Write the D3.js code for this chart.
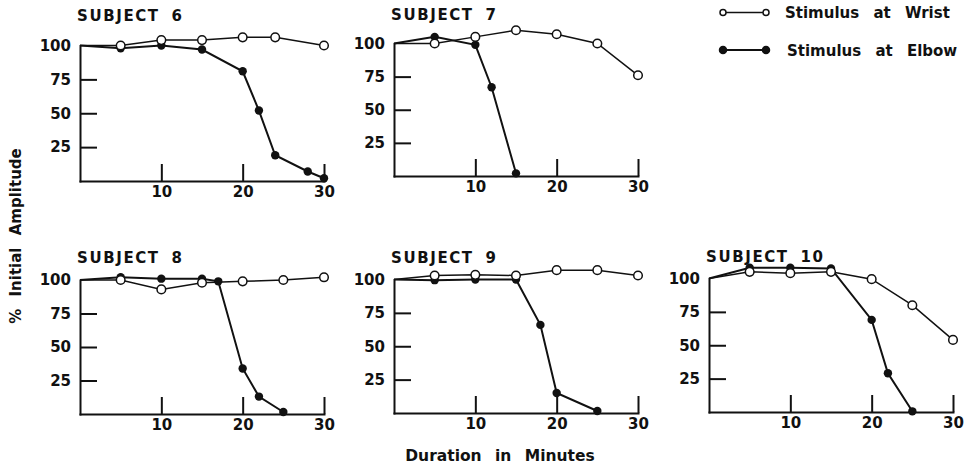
<!DOCTYPE html>
<html>
<head>
<meta charset="utf-8">
<script src="https://cdn.jsdelivr.net/npm/d3@7/dist/d3.min.js"></script>
<style>
  body { margin: 0; background: #fff; }
  svg { display: block; font-family: "DejaVu Sans", sans-serif; font-weight: bold; }
  .axis path, .axis line { stroke: #111; stroke-width: 2; }
  .axis text { font-size: 15px; fill: #111; font-family: "DejaVu Sans", sans-serif; font-weight: bold; }
</style>
</head>
<body>
<svg id="chart"></svg>
<script>
  // Values: [minutes, % of initial amplitude]
  const subjects = ["SUBJECT 6", "SUBJECT 7", "SUBJECT 8", "SUBJECT 9", "SUBJECT 10"];

  const wrist6 = [[0, 100], [5, 100], [10, 104], [15, 104], [20, 106], [24, 106], [30, 100]];
  const elbow6 = [[0, 100], [5, 98], [10, 100], [15, 97], [20, 81], [22, 52], [24, 19], [28, 7], [30, 2]];

  const wrist7 = [[0, 100], [5, 100], [10, 105], [15, 110], [20, 107], [25, 100], [30, 76]];
  const elbow7 = [[0, 100], [5, 105], [10, 99], [12, 67], [15, 2]];

  const wrist8 = [[0, 100], [5, 100], [10, 93], [15, 98], [20, 99], [25, 100], [30, 102]];
  const elbow8 = [[0, 100], [5, 102], [10, 101], [15, 101], [17, 99], [20, 34], [22, 13], [25, 1.5]];

  const wrist9 = [[0, 100], [5, 103], [10, 103.5], [15, 103], [20, 107], [25, 107], [30, 103]];
  const elbow9 = [[0, 100], [5, 99.5], [10, 100], [15, 100], [18, 66], [20, 15], [25, 1.5]];

  const wrist10 = [[0, 100], [5, 105], [10, 104], [15, 105], [20, 99.5], [25, 80], [30, 54]];
  const elbow10 = [[0, 100], [5, 108], [10, 108], [15, 107.5], [20, 69], [22, 29], [25, 0.5]];

  const wristSeries = [wrist6, wrist7, wrist8, wrist9, wrist10];
  const elbowSeries = [elbow6, elbow7, elbow8, elbow9, elbow10];

  const yTicks = [25, 50, 75, 100];
  const xTicks = [10, 20, 30];
  const legendLabels = ["Stimulus at Wrist", "Stimulus at Elbow"];

  // panel frames (left edge, top = 100%, bottom = 0%, title baseline)
  const frames = [
    { x0: 80, top: 45.5, bottom: 181, titleY: 21 },
    { x0: 394, top: 43.5, bottom: 176, titleY: 20 },
    { x0: 80, top: 280, bottom: 414, titleY: 263 },
    { x0: 394, top: 279.5, bottom: 413, titleY: 263 },
    { x0: 709, top: 278.5, bottom: 412, titleY: 262 }
  ];
  const panelWidth = 244;

  const svg = d3.select("#chart").attr("width", 970).attr("height", 466);

  function drawPanel(i) {
    const f = frames[i];
    const x = d3.scaleLinear().domain([0, 30]).range([f.x0, f.x0 + panelWidth]);
    const y = d3.scaleLinear().domain([0, 100]).range([f.bottom, f.top]);
    const g = svg.append("g");

    // axes: ticks drawn inward like the original
    const gy = g.append("g").attr("class", "axis")
      .attr("transform", `translate(${f.x0},0)`)
      .call(d3.axisLeft(y).tickValues(yTicks).tickSizeInner(-17).tickSizeOuter(0).tickPadding(9));
    gy.selectAll(".tick").filter(d => d === 100).select("line").remove();

    g.append("g").attr("class", "axis")
      .attr("transform", `translate(0,${f.bottom})`)
      .call(d3.axisBottom(x).tickValues(xTicks).tickSizeInner(-17).tickSizeOuter(0).tickPadding(5));

    g.selectAll(".domain").attr("stroke-linecap", "square");

    // title
    g.append("text")
      .attr("x", f.x0 - 3)
      .attr("y", f.titleY)
      .attr("font-size", 15)
      .attr("letter-spacing", 1.6)
      .attr("word-spacing", 5)
      .attr("fill", "#111")
      .text(subjects[i]);

    const line = d3.line().x(d => x(d[0])).y(d => y(d[1]));

    g.append("path").datum(wristSeries[i])
      .attr("fill", "none").attr("stroke", "#111").attr("stroke-width", 1.5)
      .attr("d", line);
    g.append("path").datum(elbowSeries[i])
      .attr("fill", "none").attr("stroke", "#111").attr("stroke-width", 2)
      .attr("d", line);

    g.selectAll(".elbow").data(elbowSeries[i].filter(d => d[0] > 0))
      .join("circle").attr("class", "elbow")
      .attr("cx", d => x(d[0])).attr("cy", d => y(d[1]))
      .attr("r", 4.2).attr("fill", "#111");

    g.selectAll(".wrist").data(wristSeries[i].filter(d => d[0] > 0))
      .join("circle").attr("class", "wrist")
      .attr("cx", d => x(d[0])).attr("cy", d => y(d[1]))
      .attr("r", 4.3).attr("fill", "#fff").attr("stroke", "#111").attr("stroke-width", 1.5);
  }

  subjects.forEach((s, i) => drawPanel(i));

  // legend
  const legend = svg.append("g");
  legendLabels.forEach((label, i) => {
    const ly = i === 0 ? 12.5 : 50;
    legend.append("line").attr("x1", 723).attr("x2", 766).attr("y1", ly).attr("y2", ly)
      .attr("stroke", "#111").attr("stroke-width", i === 0 ? 1.5 : 2);
    [723, 766].forEach(cx => {
      legend.append("circle").attr("cx", cx).attr("cy", ly)
        .attr("r", i === 0 ? 3 : 3.5)
        .attr("fill", i === 0 ? "#fff" : "#111")
        .attr("stroke", "#111").attr("stroke-width", 1.5);
    });
    legend.append("text")
      .attr("x", i === 0 ? 785 : 787).attr("y", ly + 5.5)
      .attr("font-size", 15).attr("word-spacing", 9).attr("fill", "#111")
      .text(label);
  });

  // axis titles
  svg.append("text")
    .attr("transform", "translate(21,236) rotate(-90)")
    .attr("text-anchor", "middle")
    .attr("font-size", 15).attr("word-spacing", 7).attr("fill", "#111")
    .text("% Initial Amplitude");

  svg.append("text")
    .attr("x", 500).attr("y", 461)
    .attr("text-anchor", "middle")
    .attr("font-size", 15.5).attr("word-spacing", 8).attr("fill", "#111")
    .text("Duration in Minutes");
</script>
</body>
</html>
